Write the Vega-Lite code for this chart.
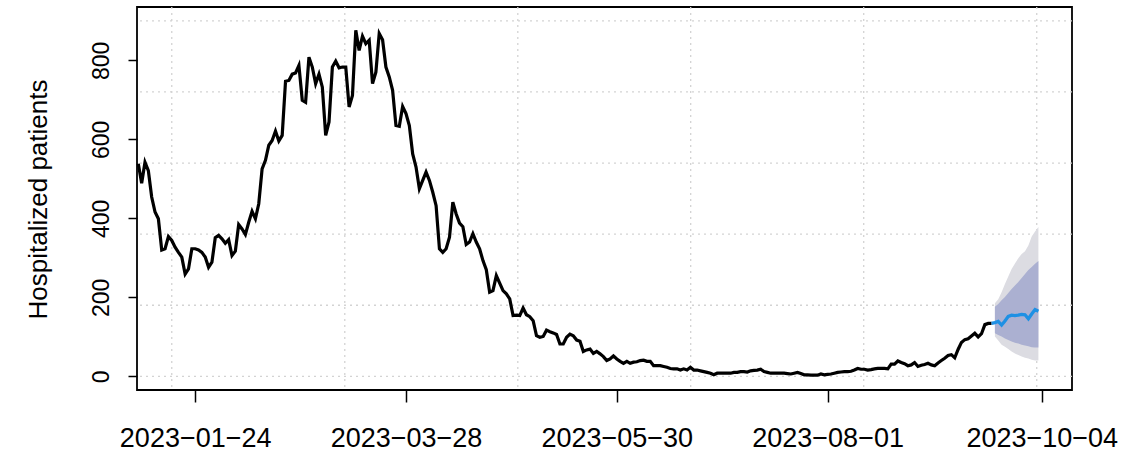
{
  "$schema": "https://vega.github.io/schema/vega-lite/v6.json",
  "width": 935,
  "height": 383,
  "autosize": {"type": "none"},
  "padding": {"left": 137, "top": 7, "right": 49, "bottom": 69},
  "background": "white",
  "config": {
    "font": "Liberation Sans",
    "view": {"stroke": "black", "strokeWidth": 1.8},
    "axis": {"domain": false, "grid": false, "tickColor": "black", "tickWidth": 1.5, "labelColor": "black", "titleColor": "black", "titleFontWeight": "normal", "labelFont": "Liberation Sans", "titleFont": "Liberation Sans"},
    "axisX": {"tickSize": 12, "labelFontSize": 27, "labelPadding": 23, "labelFlush": false, "labelOverlap": false, "labelBaseline": "top"},
    "axisY": {"tickSize": 9, "labelFontSize": 23, "labelAngle": 270, "labelAlign": "center", "labelBaseline": "bottom", "labelPadding": 15, "labelOverlap": false}
  },
  "datasets": {
    "vgrid": [
      {"date": "2023-01-17T00:00:00Z"}, {"date": "2023-03-09T17:00:00Z"}, {"date": "2023-04-30T10:00:00Z"},
      {"date": "2023-06-21T02:00:00Z"}, {"date": "2023-08-11T19:00:00Z"}, {"date": "2023-10-02T12:00:00Z"}
    ],
    "hgrid": [{"level": 0}, {"level": 180}, {"level": 360}, {"level": 540}, {"level": 720}, {"level": 900}],
    "obs": [
      {"date": "2023-01-07", "patients": 538}, {"date": "2023-01-08", "patients": 489}, {"date": "2023-01-09", "patients": 542},
      {"date": "2023-01-10", "patients": 521}, {"date": "2023-01-11", "patients": 454}, {"date": "2023-01-12", "patients": 416},
      {"date": "2023-01-13", "patients": 399}, {"date": "2023-01-14", "patients": 320}, {"date": "2023-01-15", "patients": 323},
      {"date": "2023-01-16", "patients": 354}, {"date": "2023-01-17", "patients": 344}, {"date": "2023-01-18", "patients": 327},
      {"date": "2023-01-19", "patients": 314}, {"date": "2023-01-20", "patients": 302}, {"date": "2023-01-21", "patients": 259},
      {"date": "2023-01-22", "patients": 272}, {"date": "2023-01-23", "patients": 323}, {"date": "2023-01-24", "patients": 323},
      {"date": "2023-01-25", "patients": 320}, {"date": "2023-01-26", "patients": 314}, {"date": "2023-01-27", "patients": 302},
      {"date": "2023-01-28", "patients": 276}, {"date": "2023-01-29", "patients": 289}, {"date": "2023-01-30", "patients": 351},
      {"date": "2023-01-31", "patients": 357}, {"date": "2023-02-01", "patients": 348}, {"date": "2023-02-02", "patients": 337},
      {"date": "2023-02-03", "patients": 346}, {"date": "2023-02-04", "patients": 306}, {"date": "2023-02-05", "patients": 317},
      {"date": "2023-02-06", "patients": 384}, {"date": "2023-02-07", "patients": 373}, {"date": "2023-02-08", "patients": 359},
      {"date": "2023-02-09", "patients": 390}, {"date": "2023-02-10", "patients": 418}, {"date": "2023-02-11", "patients": 399},
      {"date": "2023-02-12", "patients": 437}, {"date": "2023-02-13", "patients": 525}, {"date": "2023-02-14", "patients": 547},
      {"date": "2023-02-15", "patients": 585}, {"date": "2023-02-16", "patients": 597}, {"date": "2023-02-17", "patients": 621},
      {"date": "2023-02-18", "patients": 596}, {"date": "2023-02-19", "patients": 610}, {"date": "2023-02-20", "patients": 747},
      {"date": "2023-02-21", "patients": 749}, {"date": "2023-02-22", "patients": 765}, {"date": "2023-02-23", "patients": 768},
      {"date": "2023-02-24", "patients": 787}, {"date": "2023-02-25", "patients": 699}, {"date": "2023-02-26", "patients": 694},
      {"date": "2023-02-27", "patients": 808}, {"date": "2023-02-28", "patients": 783}, {"date": "2023-03-01", "patients": 741},
      {"date": "2023-03-02", "patients": 765}, {"date": "2023-03-03", "patients": 732}, {"date": "2023-03-04", "patients": 610},
      {"date": "2023-03-05", "patients": 644}, {"date": "2023-03-06", "patients": 783}, {"date": "2023-03-07", "patients": 798},
      {"date": "2023-03-08", "patients": 781}, {"date": "2023-03-09", "patients": 783}, {"date": "2023-03-10", "patients": 783},
      {"date": "2023-03-11", "patients": 682}, {"date": "2023-03-12", "patients": 711}, {"date": "2023-03-13", "patients": 876},
      {"date": "2023-03-14", "patients": 825}, {"date": "2023-03-15", "patients": 861}, {"date": "2023-03-16", "patients": 842},
      {"date": "2023-03-17", "patients": 851}, {"date": "2023-03-18", "patients": 741}, {"date": "2023-03-19", "patients": 770},
      {"date": "2023-03-20", "patients": 868}, {"date": "2023-03-21", "patients": 852}, {"date": "2023-03-22", "patients": 783},
      {"date": "2023-03-23", "patients": 758}, {"date": "2023-03-24", "patients": 724}, {"date": "2023-03-25", "patients": 635},
      {"date": "2023-03-26", "patients": 633}, {"date": "2023-03-27", "patients": 683}, {"date": "2023-03-28", "patients": 665},
      {"date": "2023-03-29", "patients": 635}, {"date": "2023-03-30", "patients": 563}, {"date": "2023-03-31", "patients": 530},
      {"date": "2023-04-01", "patients": 475}, {"date": "2023-04-02", "patients": 496}, {"date": "2023-04-03", "patients": 517},
      {"date": "2023-04-04", "patients": 496}, {"date": "2023-04-05", "patients": 466}, {"date": "2023-04-06", "patients": 432},
      {"date": "2023-04-07", "patients": 323}, {"date": "2023-04-08", "patients": 314}, {"date": "2023-04-09", "patients": 323},
      {"date": "2023-04-10", "patients": 352}, {"date": "2023-04-11", "patients": 441}, {"date": "2023-04-12", "patients": 411},
      {"date": "2023-04-13", "patients": 388}, {"date": "2023-04-14", "patients": 379}, {"date": "2023-04-15", "patients": 334},
      {"date": "2023-04-16", "patients": 340}, {"date": "2023-04-17", "patients": 361}, {"date": "2023-04-18", "patients": 340},
      {"date": "2023-04-19", "patients": 323}, {"date": "2023-04-20", "patients": 293}, {"date": "2023-04-21", "patients": 270},
      {"date": "2023-04-22", "patients": 213}, {"date": "2023-04-23", "patients": 217}, {"date": "2023-04-24", "patients": 255},
      {"date": "2023-04-25", "patients": 236}, {"date": "2023-04-26", "patients": 217}, {"date": "2023-04-27", "patients": 209},
      {"date": "2023-04-28", "patients": 196}, {"date": "2023-04-29", "patients": 154}, {"date": "2023-04-30", "patients": 155},
      {"date": "2023-05-01", "patients": 154}, {"date": "2023-05-02", "patients": 173}, {"date": "2023-05-03", "patients": 156},
      {"date": "2023-05-04", "patients": 151}, {"date": "2023-05-05", "patients": 141}, {"date": "2023-05-06", "patients": 103},
      {"date": "2023-05-07", "patients": 99}, {"date": "2023-05-08", "patients": 101}, {"date": "2023-05-09", "patients": 117},
      {"date": "2023-05-10", "patients": 113}, {"date": "2023-05-11", "patients": 110}, {"date": "2023-05-12", "patients": 106},
      {"date": "2023-05-13", "patients": 82}, {"date": "2023-05-14", "patients": 82}, {"date": "2023-05-15", "patients": 99},
      {"date": "2023-05-16", "patients": 107}, {"date": "2023-05-17", "patients": 103}, {"date": "2023-05-18", "patients": 92},
      {"date": "2023-05-19", "patients": 89}, {"date": "2023-05-20", "patients": 63}, {"date": "2023-05-21", "patients": 67},
      {"date": "2023-05-22", "patients": 69}, {"date": "2023-05-23", "patients": 58}, {"date": "2023-05-24", "patients": 63},
      {"date": "2023-05-25", "patients": 57}, {"date": "2023-05-26", "patients": 50}, {"date": "2023-05-27", "patients": 40},
      {"date": "2023-05-28", "patients": 44}, {"date": "2023-05-29", "patients": 52}, {"date": "2023-05-30", "patients": 44},
      {"date": "2023-05-31", "patients": 38}, {"date": "2023-06-01", "patients": 33}, {"date": "2023-06-02", "patients": 38},
      {"date": "2023-06-03", "patients": 33}, {"date": "2023-06-04", "patients": 36}, {"date": "2023-06-05", "patients": 37},
      {"date": "2023-06-06", "patients": 40}, {"date": "2023-06-07", "patients": 41}, {"date": "2023-06-08", "patients": 38},
      {"date": "2023-06-09", "patients": 38}, {"date": "2023-06-10", "patients": 27}, {"date": "2023-06-11", "patients": 27},
      {"date": "2023-06-12", "patients": 27}, {"date": "2023-06-13", "patients": 25}, {"date": "2023-06-14", "patients": 23},
      {"date": "2023-06-15", "patients": 20}, {"date": "2023-06-16", "patients": 19}, {"date": "2023-06-17", "patients": 19},
      {"date": "2023-06-18", "patients": 16}, {"date": "2023-06-19", "patients": 19}, {"date": "2023-06-20", "patients": 16},
      {"date": "2023-06-21", "patients": 23}, {"date": "2023-06-22", "patients": 16}, {"date": "2023-06-23", "patients": 16},
      {"date": "2023-06-24", "patients": 14}, {"date": "2023-06-25", "patients": 12}, {"date": "2023-06-26", "patients": 10},
      {"date": "2023-06-27", "patients": 8}, {"date": "2023-06-28", "patients": 4}, {"date": "2023-06-29", "patients": 8},
      {"date": "2023-06-30", "patients": 8}, {"date": "2023-07-01", "patients": 8}, {"date": "2023-07-02", "patients": 8},
      {"date": "2023-07-03", "patients": 8}, {"date": "2023-07-04", "patients": 10}, {"date": "2023-07-05", "patients": 10},
      {"date": "2023-07-06", "patients": 12}, {"date": "2023-07-07", "patients": 12}, {"date": "2023-07-08", "patients": 11},
      {"date": "2023-07-09", "patients": 14}, {"date": "2023-07-10", "patients": 15}, {"date": "2023-07-11", "patients": 16},
      {"date": "2023-07-12", "patients": 18}, {"date": "2023-07-13", "patients": 12}, {"date": "2023-07-14", "patients": 10},
      {"date": "2023-07-15", "patients": 8}, {"date": "2023-07-16", "patients": 8}, {"date": "2023-07-17", "patients": 8},
      {"date": "2023-07-18", "patients": 8}, {"date": "2023-07-19", "patients": 8}, {"date": "2023-07-20", "patients": 7},
      {"date": "2023-07-21", "patients": 6}, {"date": "2023-07-22", "patients": 8}, {"date": "2023-07-23", "patients": 10},
      {"date": "2023-07-24", "patients": 7}, {"date": "2023-07-25", "patients": 4}, {"date": "2023-07-26", "patients": 4},
      {"date": "2023-07-27", "patients": 3}, {"date": "2023-07-28", "patients": 3}, {"date": "2023-07-29", "patients": 3},
      {"date": "2023-07-30", "patients": 6}, {"date": "2023-07-31", "patients": 4}, {"date": "2023-08-01", "patients": 5},
      {"date": "2023-08-02", "patients": 6}, {"date": "2023-08-03", "patients": 8}, {"date": "2023-08-04", "patients": 10},
      {"date": "2023-08-05", "patients": 11}, {"date": "2023-08-06", "patients": 12}, {"date": "2023-08-07", "patients": 12},
      {"date": "2023-08-08", "patients": 13}, {"date": "2023-08-09", "patients": 16}, {"date": "2023-08-10", "patients": 20},
      {"date": "2023-08-11", "patients": 18}, {"date": "2023-08-12", "patients": 18}, {"date": "2023-08-13", "patients": 16},
      {"date": "2023-08-14", "patients": 17}, {"date": "2023-08-15", "patients": 19}, {"date": "2023-08-16", "patients": 20},
      {"date": "2023-08-17", "patients": 20}, {"date": "2023-08-18", "patients": 20}, {"date": "2023-08-19", "patients": 19},
      {"date": "2023-08-20", "patients": 31}, {"date": "2023-08-21", "patients": 31}, {"date": "2023-08-22", "patients": 39},
      {"date": "2023-08-23", "patients": 35}, {"date": "2023-08-24", "patients": 32}, {"date": "2023-08-25", "patients": 27},
      {"date": "2023-08-26", "patients": 29}, {"date": "2023-08-27", "patients": 35}, {"date": "2023-08-28", "patients": 25},
      {"date": "2023-08-29", "patients": 28}, {"date": "2023-08-30", "patients": 30}, {"date": "2023-08-31", "patients": 33},
      {"date": "2023-09-01", "patients": 29}, {"date": "2023-09-02", "patients": 27}, {"date": "2023-09-03", "patients": 34},
      {"date": "2023-09-04", "patients": 40}, {"date": "2023-09-05", "patients": 46}, {"date": "2023-09-06", "patients": 53},
      {"date": "2023-09-07", "patients": 55}, {"date": "2023-09-08", "patients": 47}, {"date": "2023-09-09", "patients": 68},
      {"date": "2023-09-10", "patients": 86}, {"date": "2023-09-11", "patients": 93}, {"date": "2023-09-12", "patients": 95},
      {"date": "2023-09-13", "patients": 102}, {"date": "2023-09-14", "patients": 109}, {"date": "2023-09-15", "patients": 100},
      {"date": "2023-09-16", "patients": 108}, {"date": "2023-09-17", "patients": 131}, {"date": "2023-09-18", "patients": 134},
      {"date": "2023-09-19", "patients": 134}
    ],
    "fc": [
      {"date": "2023-09-19", "median": 134, "lo95": null, "lo80": null, "hi80": null, "hi95": null},
      {"date": "2023-09-20", "median": 136, "lo95": 101, "lo80": 109, "hi80": 176, "hi95": 185},
      {"date": "2023-09-21", "median": 139, "lo95": 91, "lo80": 105, "hi80": 183, "hi95": 195},
      {"date": "2023-09-22", "median": 130, "lo95": 80, "lo80": 101, "hi80": 193, "hi95": 213},
      {"date": "2023-09-23", "median": 140, "lo95": 75, "lo80": 96, "hi80": 201, "hi95": 234},
      {"date": "2023-09-24", "median": 152, "lo95": 69, "lo80": 92, "hi80": 211, "hi95": 253},
      {"date": "2023-09-25", "median": 155, "lo95": 63, "lo80": 88, "hi80": 221, "hi95": 272},
      {"date": "2023-09-26", "median": 154, "lo95": 58, "lo80": 85, "hi80": 230, "hi95": 286},
      {"date": "2023-09-27", "median": 155, "lo95": 54, "lo80": 83, "hi80": 239, "hi95": 299},
      {"date": "2023-09-28", "median": 157, "lo95": 50, "lo80": 80, "hi80": 249, "hi95": 310},
      {"date": "2023-09-29", "median": 156, "lo95": 47, "lo80": 78, "hi80": 259, "hi95": 317},
      {"date": "2023-09-30", "median": 146, "lo95": 45, "lo80": 76, "hi80": 269, "hi95": 331},
      {"date": "2023-10-01", "median": 158, "lo95": 42, "lo80": 74, "hi80": 277, "hi95": 354},
      {"date": "2023-10-02", "median": 169, "lo95": 40, "lo80": 73, "hi80": 285, "hi95": 367},
      {"date": "2023-10-03", "median": 165, "lo95": 40, "lo80": 73, "hi80": 292, "hi95": 378}
    ]
  },
  "layer": [
    {
      "data": {"name": "vgrid"},
      "mark": {"type": "rule", "color": "#D3D3D3", "strokeWidth": 1.3, "strokeDash": [2, 4]},
      "encoding": {
        "x": {
          "field": "date", "type": "temporal",
          "scale": {"type": "utc", "nice": false, "domain": [{"year": 2023, "month": 1, "date": 6, "hours": 14, "minutes": 40, "utc": true}, {"year": 2023, "month": 10, "date": 13, "hours": 1, "utc": true}]},
          "axis": {
            "title": null,
            "format": "%Y\u2212%m\u2212%d",
            "values": [
              {"year": 2023, "month": 1, "date": 24, "utc": true},
              {"year": 2023, "month": 3, "date": 28, "utc": true},
              {"year": 2023, "month": 5, "date": 30, "utc": true},
              {"year": 2023, "month": 8, "date": 1, "utc": true},
              {"year": 2023, "month": 10, "date": 4, "utc": true}
            ]
          }
        }
      }
    },
    {
      "data": {"name": "hgrid"},
      "mark": {"type": "rule", "color": "#D3D3D3", "strokeWidth": 1.3, "strokeDash": [2, 4]},
      "encoding": {
        "y": {
          "field": "level", "type": "quantitative",
          "scale": {"domain": [-34.5, 935], "nice": false, "zero": false},
          "axis": {
            "values": [0, 200, 400, 600, 800],
            "title": "Hospitalized patients",
            "titleFontSize": 26,
            "titleAngle": 270,
            "titleX": -99,
            "titleY": 192,
            "titleAlign": "center",
            "titleBaseline": "middle"
          }
        }
      }
    },
    {
      "data": {"name": "fc"},
      "transform": [{"filter": "datum.lo95 != null"}],
      "mark": {"type": "area", "color": "#DCDCE2", "opacity": 1},
      "encoding": {
        "x": {"field": "date", "type": "temporal", "scale": {"type": "utc", "nice": false, "domain": [{"year": 2023, "month": 1, "date": 6, "hours": 14, "minutes": 40, "utc": true}, {"year": 2023, "month": 10, "date": 13, "hours": 1, "utc": true}]}},
        "y": {"field": "lo95", "type": "quantitative", "scale": {"domain": [-34.5, 935], "nice": false, "zero": false}},
        "y2": {"field": "hi95"}
      }
    },
    {
      "data": {"name": "fc"},
      "transform": [{"filter": "datum.lo80 != null"}],
      "mark": {"type": "area", "color": "#ABB0D1", "opacity": 1},
      "encoding": {
        "x": {"field": "date", "type": "temporal", "scale": {"type": "utc", "nice": false, "domain": [{"year": 2023, "month": 1, "date": 6, "hours": 14, "minutes": 40, "utc": true}, {"year": 2023, "month": 10, "date": 13, "hours": 1, "utc": true}]}},
        "y": {"field": "lo80", "type": "quantitative", "scale": {"domain": [-34.5, 935], "nice": false, "zero": false}},
        "y2": {"field": "hi80"}
      }
    },
    {
      "data": {"name": "obs"},
      "mark": {"type": "line", "color": "black", "strokeWidth": 3.2, "strokeJoin": "miter"},
      "encoding": {
        "x": {"field": "date", "type": "temporal", "scale": {"type": "utc", "nice": false, "domain": [{"year": 2023, "month": 1, "date": 6, "hours": 14, "minutes": 40, "utc": true}, {"year": 2023, "month": 10, "date": 13, "hours": 1, "utc": true}]}},
        "y": {"field": "patients", "type": "quantitative", "scale": {"domain": [-34.5, 935], "nice": false, "zero": false}}
      }
    },
    {
      "data": {"name": "fc"},
      "mark": {"type": "line", "color": "#1E90E4", "strokeWidth": 3.3},
      "encoding": {
        "x": {"field": "date", "type": "temporal", "scale": {"type": "utc", "nice": false, "domain": [{"year": 2023, "month": 1, "date": 6, "hours": 14, "minutes": 40, "utc": true}, {"year": 2023, "month": 10, "date": 13, "hours": 1, "utc": true}]}},
        "y": {"field": "median", "type": "quantitative", "scale": {"domain": [-34.5, 935], "nice": false, "zero": false}}
      }
    }
  ]
}
